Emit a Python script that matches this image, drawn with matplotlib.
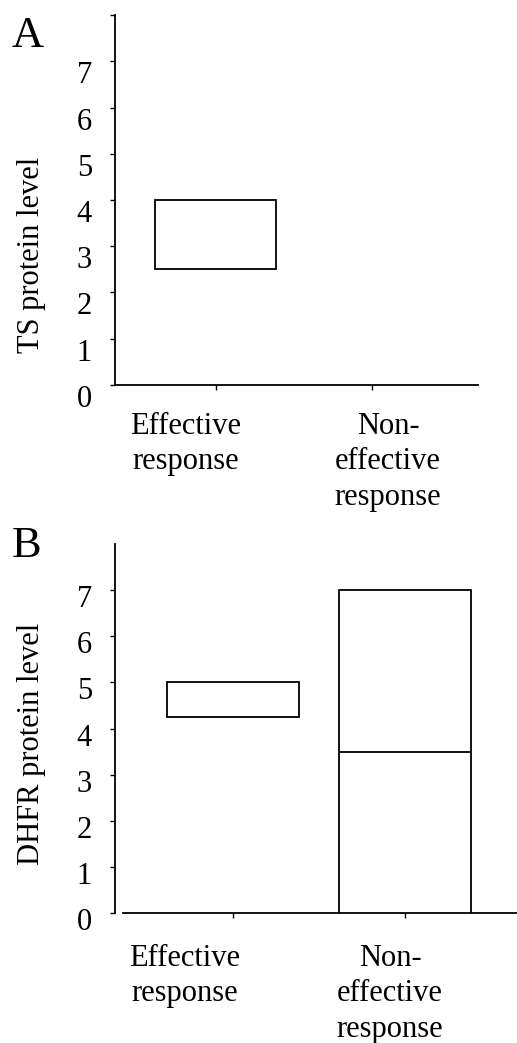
import matplotlib
matplotlib.use("Agg")
import matplotlib.pyplot as plt
import matplotlib.transforms as mtransforms

plt.rcParams['font.family'] = ['Liberation Serif', 'DejaVu Serif']

# data
groups = ['Effective\nresponse', 'Non-\neffective\nresponse']
ts_pos = [1]
ts_low = [2.5]
ts_high = [4.0]
dhfr_pos = [1, 2]
dhfr_low = [4.25, 0.0]
dhfr_high = [5.0, 7.0]
dhfr_median_pos = [2]
dhfr_median = [3.5]
yticks = [0, 1, 2, 3, 4, 5, 6, 7]

fig = plt.figure(figsize=(5.17, 10.43), dpi=100)
axA = fig.add_axes([0.2224, 0.6309, 0.7021, 0.3547])
axB = fig.add_axes([0.2224, 0.1246, 0.7776, 0.3538])

lw = 1.3


def style(ax, xlim, ytick_list, label_dy, xlabel_pos, xlabel_dy):
    ax.set_xlim(*xlim)
    ax.set_ylim(0, 8)
    ax.spines['top'].set_visible(False)
    ax.spines['right'].set_visible(False)
    ax.spines['left'].set_linewidth(lw)
    ax.spines['bottom'].set_linewidth(lw)
    ax.set_yticks(ytick_list)
    ax.set_yticklabels([str(t) if t <= 7 else '' for t in ytick_list])
    ax.set_xticks([1, 2])
    ax.set_xticklabels(['', ''])
    ax.tick_params(axis='y', direction='out', length=3.6, width=1.0,
                   labelsize=22, pad=13)
    ax.tick_params(axis='x', direction='out', length=3.6, width=1.0)
    off = mtransforms.ScaledTranslation(0, -label_dy / 100, fig.dpi_scale_trans)
    for lab in ax.get_yticklabels():
        lab.set_transform(lab.get_transform() + off)
    for x, g in zip(xlabel_pos, groups):
        ax.annotate(g, xy=(x, 0), xycoords=('data', 'axes fraction'),
                    xytext=(0, -xlabel_dy * 0.72), textcoords='offset points',
                    ha='center', va='top', fontsize=22, linespacing=1.29,
                    annotation_clip=False)


# panel A
style(axA, (0.353, 2.679), yticks + [8], 11, [0.808, 2.103], 27)
axA.bar(ts_pos, [h - l for l, h in zip(ts_low, ts_high)], bottom=ts_low,
        width=0.776, color='white', edgecolor='black', linewidth=lw)

# panel B
style(axB, (0.314, 2.651), yticks, 6, [0.721, 1.913], 31)
axB.bar(dhfr_pos, [h - l for l, h in zip(dhfr_low, dhfr_high)], bottom=dhfr_low,
        width=0.762, color='white', edgecolor='black', linewidth=lw, zorder=3)
for x, m in zip(dhfr_median_pos, dhfr_median):
    axB.hlines(m, x - 0.381, x + 0.381, color='black', linewidth=lw, zorder=4)
axB.spines['bottom'].set_bounds(0.360, 2.651)

fig.text(32 / 517, 1 - 255 / 1043, 'TS protein level', rotation=90,
         ha='center', va='center', fontsize=22)
fig.text(32 / 517, 1 - 744 / 1043, 'DHFR protein level', rotation=90,
         ha='center', va='center', fontsize=22)
fig.text(12 / 517, 1 - 47 / 1043, 'A', fontsize=32, va='baseline', ha='left')
fig.text(12 / 517, 1 - 557 / 1043, 'B', fontsize=32, va='baseline', ha='left')

fig.savefig('out.png', dpi=100)
